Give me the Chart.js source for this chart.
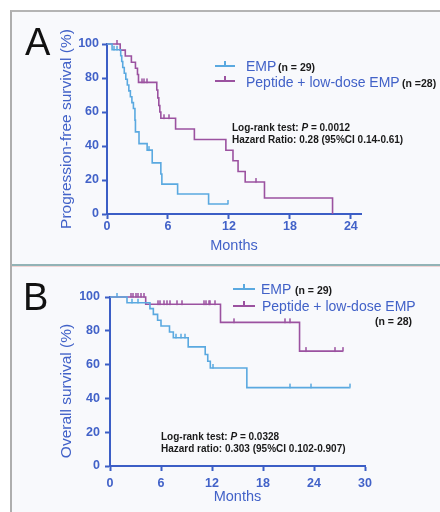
<!DOCTYPE html>
<html><head><meta charset="utf-8">
<script src="https://cdn.jsdelivr.net/npm/chart.js@4.4.0/dist/chart.umd.min.js"></script>
<style>
html,body{margin:0;padding:0;background:#fff;width:440px;height:512px;overflow:hidden;font-family:"Liberation Sans",Arial,sans-serif;}
#frame{position:absolute;left:10px;top:10px;width:440px;height:510px;border-left:2px solid #aeaeae;border-top:2px solid #b4b4b4;background:#f8f9fc;box-sizing:border-box}
.sep1{position:absolute;left:12px;width:428px;top:264px;height:2px;background:#92b3b6}
.sep2{position:absolute;left:12px;width:428px;top:266px;height:1px;background:#f0d4d4}
canvas{position:absolute;left:0}
.t{position:absolute;white-space:nowrap}
.ls{position:absolute;height:2px}
.lt{position:absolute;width:2px;height:5px}
</style></head><body>
<div id="frame"></div><div class="sep1"></div><div class="sep2"></div>
<canvas id="cA" width="440" height="262" style="top:0"></canvas>
<canvas id="cB" width="440" height="244" style="top:268px"></canvas>
<div id="overlay"></div>
<script>
// ---------- data ----------
const monthTicksA = [0, 6, 12, 18, 24];
const monthTicksB = [0, 6, 12, 18, 24, 30];
const survivalTicks = [0, 20, 40, 60, 80, 100];

// Panel A: progression-free survival
const pfsEmpMonths   = [0, 0.5, 1.35, 1.45, 1.55, 1.7, 1.85, 2.0, 2.15, 2.3, 2.45, 2.6, 2.75, 2.8, 3.15, 3.95, 4.45, 5.3, 5.4, 6.95, 10.0, 11.9];
const pfsEmpSurvival = [100, 96.6, 93.1, 89.7, 86.2, 82.8, 79.3, 75.9, 72.4, 69.0, 65.5, 62.1, 55.2, 48.3, 41.4, 37.6, 30.1, 23.5, 17.6, 11.8, 5.9, 5.9];
const pfsEmpCensorMonths   = [0.7, 1.0, 4.1, 11.9];
const pfsEmpCensorSurvival = [96.6, 96.6, 37.6, 5.9];

const pfsPepMonths   = [0, 1.3, 1.8, 2.4, 2.8, 3.0, 3.1, 4.9, 5.0, 5.1, 5.2, 5.3, 6.75, 8.6, 11.7, 12.4, 12.9, 13.6, 15.5, 22.2];
const pfsPepSurvival = [100, 96.4, 92.9, 89.3, 85.7, 82.1, 77.4, 72.9, 68.3, 63.8, 60.0, 56.3, 50.0, 43.8, 37.5, 31.3, 25.0, 18.8, 9.4, 0];
const pfsPepCensorMonths   = [1.0, 3.4, 3.65, 3.9, 5.6, 6.1, 14.7];
const pfsPepCensorSurvival = [100, 77.4, 77.4, 77.4, 56.3, 56.3, 18.8];

// Panel B: overall survival
const osEmpMonths   = [0, 2.0, 4.7, 5.1, 5.6, 6.0, 7.0, 7.45, 9.2, 11.2, 11.5, 11.8, 16.1, 28.2];
const osEmpSurvival = [100, 96.6, 93.1, 89.7, 86.2, 82.8, 79.3, 75.9, 70.5, 66.0, 62.0, 58.0, 46.4, 46.4];
const osEmpCensorMonths   = [0.8, 2.6, 3.3, 7.8, 8.4, 8.8, 12.1, 21.2, 23.6, 28.2];
const osEmpCensorSurvival = [100, 96.6, 96.6, 75.9, 75.9, 75.9, 58.0, 46.4, 46.4, 46.4];

const osPepMonths   = [0, 4.2, 13.0, 22.3, 27.4];
const osPepSurvival = [100, 95.7, 85.0, 68.0, 68.0];
const osPepCensorMonths   = [2.5, 2.7, 3.0, 3.3, 3.7, 4.0, 5.7, 5.9, 6.3, 6.7, 7.0, 7.9, 8.5, 11.1, 11.3, 11.6, 11.8, 12.4, 14.6, 20.6, 21.2, 23.1, 26.5, 27.4];
const osPepCensorSurvival = [100, 100, 100, 100, 100, 100, 95.7, 95.7, 95.7, 95.7, 95.7, 95.7, 95.7, 95.7, 95.7, 95.7, 95.7, 95.7, 85.0, 85.0, 85.0, 68.0, 68.0, 68.0];

const seriesNames = ['EMP', 'Peptide + low-dose EMP'];

// ---------- style ----------
const AXIS = '#3c5ec6', LABEL = '#4262c8', EMPC = '#5aa9e0', PEPC = '#9b52a0';
const FONT = '"Liberation Sans", Arial, sans-serif';

function pts(t, s){ return t.map((x,i)=>({x:x, y:s[i]})); }
function tickImg(color){
  const c = document.createElement('canvas'); c.width = 2; c.height = 10;
  const g = c.getContext('2d'); g.fillStyle = color; g.fillRect(0.25,1,1.5,4.5); return c;
}
const yTitlePlugin = {
  id: 'yTitle',
  afterDraw(chart, args, o){
    const ctx = chart.ctx; ctx.save();
    ctx.translate(o.x, o.y); ctx.rotate(-Math.PI/2);
    ctx.font = o.font; ctx.fillStyle = LABEL; ctx.textAlign = 'center'; ctx.textBaseline = 'middle';
    ctx.fillText(o.text, 0, 0); ctx.restore();
  }
};

function makeChart(id, cfg){
  const datasets = [
    {data: pts(cfg.empT, cfg.empS), borderColor: EMPC},
    {data: pts(cfg.pepT, cfg.pepS), borderColor: PEPC},
  ].map(d => Object.assign(d, {stepped: true, borderWidth: 1.6, pointRadius: 0, fill: false, clip: false}));
  datasets.push({data: pts(cfg.empCT, cfg.empCS), showLine: false, pointStyle: tickImg(EMPC), pointRadius: 4, clip: false});
  datasets.push({data: pts(cfg.pepCT, cfg.pepCS), showLine: false, pointStyle: tickImg(PEPC), pointRadius: 4, clip: false});
  return new Chart(document.getElementById(id), {
    type: 'line',
    data: {datasets},
    plugins: [yTitlePlugin],
    options: {
      responsive: false, animation: false, events: [],
      layout: {padding: {left: 55, top: cfg.top, right: cfg.right, bottom: 0}},
      plugins: {legend: {display: false}, tooltip: {enabled: false},
        yTitle: {x: 67, y: cfg.yTitleY, text: cfg.yTitle, font: '15.5px ' + FONT}},
      scales: {
        x: {type: 'linear', min: 0, max: cfg.xmax,
          afterFit: s => { s.height = cfg.xH; },
          afterBuildTicks: s => { s.ticks = cfg.xTicks.map(v => ({value: v})); },
          ticks: {color: LABEL, font: {family: FONT, size: 12.5, weight: 'bold'}, padding: cfg.xPad, maxRotation: 0},
          grid: {drawOnChartArea: false, drawTicks: true, tickLength: 5, tickWidth: 2, color: AXIS},
          border: {display: true, color: AXIS, width: 2},
          title: {display: true, text: 'Months', color: LABEL, font: {family: FONT, size: 14.5, lineHeight: 1}, padding: {top: 0, bottom: cfg.mPad}}
        },
        y: {type: 'linear', min: 0, max: 100,
          afterFit: s => { s.width = cfg.yW; },
          afterBuildTicks: s => { s.ticks = survivalTicks.map(v => ({value: v})); },
          ticks: {color: LABEL, font: {family: FONT, size: 12.5, weight: 'bold'}, padding: cfg.yPad},
          grid: {drawOnChartArea: false, drawTicks: true, tickLength: 5, tickWidth: 2, color: AXIS},
          border: {display: true, color: AXIS, width: 2},
          title: {display: false}
        }
      }
    }
  });
}

makeChart('cA', {empT: pfsEmpMonths, empS: pfsEmpSurvival, pepT: pfsPepMonths, pepS: pfsPepSurvival,
  empCT: pfsEmpCensorMonths, empCS: pfsEmpCensorSurvival, pepCT: pfsPepCensorMonths, pepCS: pfsPepCensorSurvival,
  xmax: 25, xTicks: monthTicksA, top: 44, right: 79, xH: 48, yW: 52, xPad: 0, yPad: 3, mPad: 8.75,
  yTitle: 'Progression-free survival (%)', yTitleY: 129});
makeChart('cB', {empT: osEmpMonths, empS: osEmpSurvival, pepT: osPepMonths, pepS: osPepSurvival,
  empCT: osEmpCensorMonths, empCS: osEmpCensorSurvival, pepCT: osPepCensorMonths, pepCS: osPepCensorSurvival,
  xmax: 30, xTicks: monthTicksB, top: 29, right: 75, xH: 46, yW: 55, xPad: 5, yPad: 5, mPad: 7.75,
  yTitle: 'Overall survival (%)', yTitleY: 123});

// ---------- legends & annotations (HTML text) ----------
const ov = document.getElementById('overlay');
function text(str, left, cy, size, opts){
  opts = opts || {};
  const d = document.createElement('div'); d.className = 't';
  d.style.left = left + 'px'; d.style.top = (cy - size/2) + 'px';
  d.style.fontSize = size + 'px'; d.style.lineHeight = size + 'px';
  d.style.color = opts.color || '#1a1a1a'; d.style.fontWeight = opts.bold ? 'bold' : 'normal';
  d.style.fontFamily = opts.family || FONT;
  d.innerHTML = str; ov.appendChild(d);
}
function sample(x, y, w, color){
  const l = document.createElement('div'); l.className = 'ls';
  l.style.left = x + 'px'; l.style.top = (y - 1) + 'px'; l.style.width = w + 'px'; l.style.background = color; ov.appendChild(l);
  const t = document.createElement('div'); t.className = 'lt';
  t.style.left = (x + w/2 - 1) + 'px'; t.style.top = (y - 5) + 'px'; t.style.background = color; ov.appendChild(t);
}
text('A', 25, 41.5, 38, {color: '#111'});
text('B', 23, 296.5, 38, {color: '#111'});

sample(215, 66, 20, EMPC);
text(seriesNames[0], 246, 66, 14, {color: LABEL});
text('(n = 29)', 278, 67, 10.5, {bold: true});
sample(215, 81, 20, PEPC);
text(seriesNames[1], 246, 81.5, 14, {color: LABEL});
text('(n =28)', 402, 83, 10.5, {bold: true});

text('Log-rank test: <i>P</i> = 0.0012', 232, 128, 10, {bold: true});
text('Hazard Ratio: 0.28 (95%CI 0.14-0.61)', 232, 140, 10, {bold: true});

sample(233, 288.5, 22, EMPC);
text(seriesNames[0], 261, 289, 14, {color: LABEL});
text('(n = 29)', 295, 290, 10.5, {bold: true});
sample(233, 305.5, 22, PEPC);
text(seriesNames[1], 262, 306, 14, {color: LABEL});
text('(n = 28)', 375, 321, 10.5, {bold: true});

text('Log-rank test: <i>P</i> = 0.0328', 161, 437, 10, {bold: true});
text('Hazard ratio: 0.303 (95%CI 0.102-0.907)', 161, 448.5, 10, {bold: true});
</script>
</body></html>
